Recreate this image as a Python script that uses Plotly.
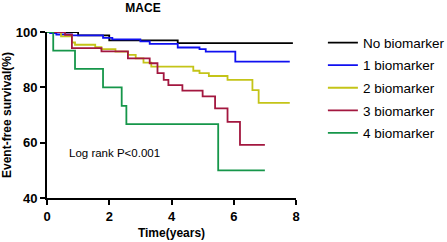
import plotly.graph_objects as go

# ---- data ----
series_names = ["No biomarker", "1 biomarker", "2 biomarker", "3 biomarker", "4 biomarker"]

t_none = [0, 1.0, 2.0, 4.2, 7.9]
s_none = [100, 98.8, 97, 96, 96]

t_one = [0, 0.1, 0.3, 0.8, 1.8, 2.1, 3.0, 3.3, 4.2, 4.9, 5.1, 6.05, 7.8]
s_one = [100, 99.6, 99.1, 98.8, 97.9, 97.3, 96.6, 95.7, 94.4, 93.8, 92.9, 89.3, 89.3]

t_two = [0, 0.45, 0.8, 0.9, 1.55, 1.75, 2.2, 2.6, 2.85, 3.1, 3.35, 4.7, 4.9, 5.2, 5.8, 6.6, 6.8, 7.8]
s_two = [100, 98.4, 96.2, 95.4, 94.5, 93.8, 92.9, 91.7, 90.5, 88.9, 87.5, 86.0, 85.1, 84.1, 82.7, 79.0, 74.4, 74.4]

t_three = [0, 0.58, 0.8, 1.75, 2.6, 3.3, 3.55, 3.75, 3.9, 4.35, 5.0, 5.4, 5.8, 6.2, 7.0]
s_three = [100, 99, 94.2, 93, 90.5, 88.7, 85.1, 82.7, 80.8, 78.8, 76.7, 72.4, 67.5, 59.2, 59.2]

t_four = [0, 0.2, 0.9, 1.8, 2.4, 2.55, 5.5, 7.0]
s_four = [100, 93.3, 86.7, 80, 73.3, 66.7, 50, 50]

x_ticks = [0, 2, 4, 6, 8]
y_ticks = [40, 60, 80, 100]

colors = ["#000000", "#1010f0", "#c4c418", "#a3173f", "#16964a"]

FONT = "Arial, Liberation Sans, Helvetica, sans-serif"

fig = go.Figure()
all_t = [t_none, t_one, t_two, t_three, t_four]
all_s = [s_none, s_one, s_two, s_three, s_four]
for name, t, s, c in zip(series_names, all_t, all_s, colors):
    fig.add_trace(go.Scatter(
        x=t, y=s, mode="lines", name=name, legendgroup=name,
        line=dict(color=c, width=1.8, shape="hv"), cliponaxis=False,
    ))

fig.add_annotation(
    x=0.64, y=56.2, xref="x", yref="y", text="Log rank P<0.001",
    showarrow=False, xanchor="left", yanchor="middle",
    font=dict(family=FONT, size=11.5, color="#000000"),
)

fig.update_layout(
    width=447, height=242,
    margin=dict(l=47, r=151, t=32, b=44, autoexpand=False),
    paper_bgcolor="white", plot_bgcolor="white",
    font=dict(family=FONT, color="#000000"),
    title=dict(text="<b>MACE</b>", x=143 / 447, xref="container", xanchor="center",
               y=1 - 8 / 242, yref="container", yanchor="middle",
               font=dict(family=FONT, size=12, color="#000000")),
    legend=dict(x=1.108, y=1.028, xanchor="left", yanchor="top",
                font=dict(family=FONT, size=13.5, color="#000000"),
                tracegroupgap=2, bgcolor="rgba(0,0,0,0)"),
    showlegend=True,
)

fig.update_xaxes(
    range=[0, 8], tickvals=x_ticks, ticktext=[f"<b>{v}</b>" for v in x_ticks],
    showline=True, linecolor="#000000", linewidth=2, mirror=False,
    ticks="outside", ticklen=5, tickwidth=2, tickcolor="#000000",
    showgrid=False, zeroline=False, automargin=False,
    tickfont=dict(family=FONT, size=13, color="#000000"),
    title=dict(text="<b>Time(years)</b>", standoff=6,
               font=dict(family=FONT, size=12, color="#000000")),
)
fig.update_yaxes(
    range=[40, 100], tickvals=y_ticks, ticktext=[f"<b>{v}</b>" for v in y_ticks],
    showline=True, linecolor="#000000", linewidth=2, mirror=False,
    ticks="outside", ticklen=5, tickwidth=2, tickcolor="#000000",
    showgrid=False, zeroline=False, automargin=False,
    tickfont=dict(family=FONT, size=13, color="#000000"),
    title=dict(text="<b>Event-free survival(%)</b>", standoff=2,
               font=dict(family=FONT, size=12, color="#000000")),
)

fig.write_html("out.html", config={"displayModeBar": False},
               post_script="document.body.style.margin='0';")
